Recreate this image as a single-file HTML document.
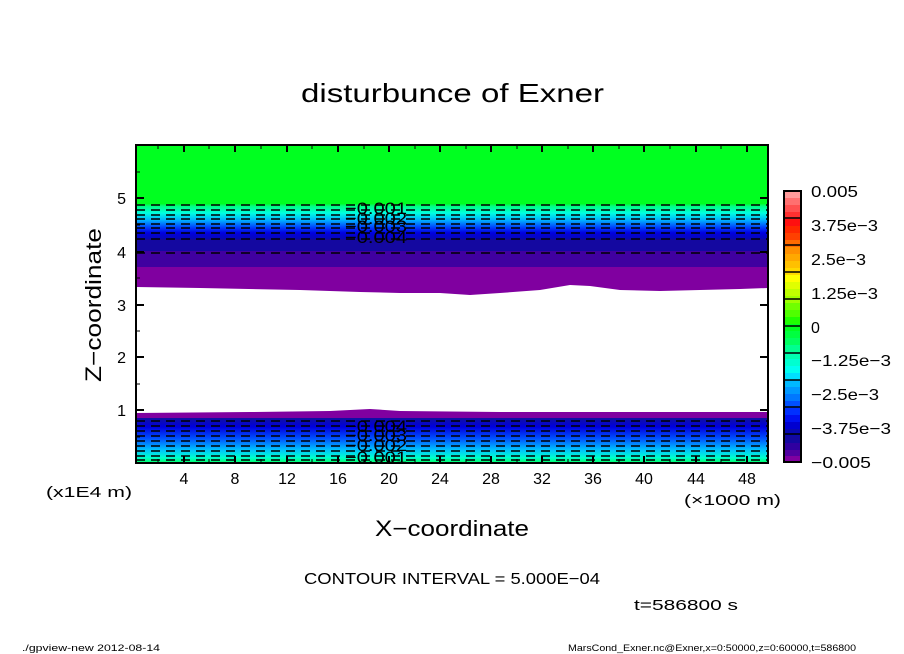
<!DOCTYPE html>
<html><head><meta charset="utf-8"><style>
body{margin:0;background:#fff;}
svg{display:block;font-family:"Liberation Sans",sans-serif;}
</style></head><body>
<svg width="904" height="654" viewBox="0 0 904 654" xmlns="http://www.w3.org/2000/svg">
<defs>
<linearGradient id="gt" x1="0" y1="0" x2="0" y2="1">
<stop offset="0" stop-color="#00ff30"/>
<stop offset="0.06" stop-color="#00ff80"/>
<stop offset="0.25" stop-color="#00ffe0"/>
<stop offset="0.45" stop-color="#00b0ff"/>
<stop offset="0.65" stop-color="#0040ff"/>
<stop offset="0.8" stop-color="#0000e0"/>
<stop offset="1" stop-color="#0808b0"/>
</linearGradient>
<linearGradient id="gb" x1="0" y1="0" x2="0" y2="1">
<stop offset="0" stop-color="#1010a0"/>
<stop offset="0.2" stop-color="#0000e0"/>
<stop offset="0.45" stop-color="#0050ff"/>
<stop offset="0.7" stop-color="#00c0ff"/>
<stop offset="0.88" stop-color="#00ffd0"/>
<stop offset="1" stop-color="#00ff60"/>
</linearGradient>
</defs>
<text x="301" y="102" font-size="26" textLength="303" lengthAdjust="spacingAndGlyphs">disturbunce of Exner</text>
<rect x="136" y="145" width="632" height="318" fill="#fff"/>
<rect x="136" y="145" width="632" height="60" fill="#00ff20"/>
<rect x="136" y="204" width="632" height="36" fill="url(#gt)"/>
<rect x="136" y="239" width="632" height="13" fill="#1408a0"/>
<rect x="136" y="251" width="632" height="17" fill="#4000a0"/>
<path d="M136 267 H768 V288 L740 289 L660 291 L620 290 L590 286 L570 285 L540 290 L500 293 L470 295 L440 293 L400 293 L360 292 L300 290 L200 288 L136 287 Z" fill="#8000a0"/>
<path d="M136 413 L250 412 L330 411 L370 409 L400 411 L500 412 L768 412 V463 H136 Z" fill="#8000a0"/>
<rect x="136" y="418" width="632" height="45" fill="url(#gb)"/>
<g stroke="#000" stroke-width="1.4" stroke-dasharray="9,6" fill="none">
<line x1="136" y1="205" x2="768" y2="205"/>
<line x1="136" y1="210" x2="768" y2="210"/>
<line x1="136" y1="215" x2="768" y2="215"/>
<line x1="136" y1="219" x2="768" y2="219"/>
<line x1="136" y1="224" x2="768" y2="224"/>
<line x1="136" y1="228" x2="768" y2="228"/>
<line x1="136" y1="233" x2="768" y2="233"/>
<line x1="136" y1="239" x2="768" y2="239"/>
<line x1="136" y1="253" x2="768" y2="253"/>
<line x1="136" y1="421" x2="768" y2="421"/>
<line x1="136" y1="426" x2="768" y2="426"/>
<line x1="136" y1="431" x2="768" y2="431"/>
<line x1="136" y1="436" x2="768" y2="436"/>
<line x1="136" y1="441" x2="768" y2="441"/>
<line x1="136" y1="446" x2="768" y2="446"/>
<line x1="136" y1="451" x2="768" y2="451"/>
<line x1="136" y1="456" x2="768" y2="456"/>
<line x1="136" y1="460" x2="768" y2="460"/>
</g>
<g font-size="17" fill="#000">
<text x="345" y="214" textLength="62" lengthAdjust="spacingAndGlyphs">−0.001</text><text x="345" y="224" textLength="62" lengthAdjust="spacingAndGlyphs">−0.002</text><text x="345" y="232" textLength="62" lengthAdjust="spacingAndGlyphs">−0.003</text><text x="345" y="243" textLength="62" lengthAdjust="spacingAndGlyphs">−0.004</text>
<text x="345" y="432" textLength="62" lengthAdjust="spacingAndGlyphs">−0.004</text><text x="345" y="441" textLength="62" lengthAdjust="spacingAndGlyphs">−0.003</text><text x="345" y="451" textLength="62" lengthAdjust="spacingAndGlyphs">−0.002</text><text x="345" y="463" textLength="62" lengthAdjust="spacingAndGlyphs">−0.001</text>
</g>
<rect x="136" y="145" width="632" height="318" fill="none" stroke="#000" stroke-width="2"/>
<g stroke="#000" stroke-width="2">
<path d="M184 463v-7M235 463v-7M287 463v-7M338 463v-7M389 463v-7M440 463v-7M491 463v-7M542 463v-7M593 463v-7M644 463v-7M696 463v-7M747 463v-7"/>
<path d="M184 145v7M235 145v7M287 145v7M338 145v7M389 145v7M440 145v7M491 145v7M542 145v7M593 145v7M644 145v7M696 145v7M747 145v7"/>
<path d="M136 198h8M136 252h8M136 305h8M136 357h8M136 410h8M768 198h-8M768 252h-8M768 305h-8M768 357h-8M768 410h-8"/>
</g>
<g stroke="#000" stroke-width="1">
<path d="M158 463v-4M209 463v-4M261 463v-4M312 463v-4M364 463v-4M415 463v-4M466 463v-4M517 463v-4M568 463v-4M619 463v-4M670 463v-4M721 463v-4"/>
<path d="M158 145v4M209 145v4M261 145v4M312 145v4M364 145v4M415 145v4M466 145v4M517 145v4M568 145v4M619 145v4M670 145v4M721 145v4"/>
<path d="M136 172h4M136 225h4M136 278h4M136 331h4M136 384h4M136 437h4"/>
</g>
<g font-size="16" text-anchor="middle">
<text x="184" y="484">4</text><text x="235" y="484">8</text><text x="287" y="484">12</text><text x="338" y="484">16</text><text x="389" y="484">20</text><text x="440" y="484">24</text><text x="491" y="484">28</text><text x="542" y="484">32</text><text x="593" y="484">36</text><text x="644" y="484">40</text><text x="696" y="484">44</text><text x="747" y="484">48</text>
</g>
<g font-size="16" text-anchor="end">
<text x="126" y="204">5</text><text x="126" y="258">4</text><text x="126" y="311">3</text><text x="126" y="363">2</text><text x="126" y="416">1</text>
</g>
<text x="46" y="497" font-size="15" textLength="86" lengthAdjust="spacingAndGlyphs">(x1E4 m)</text>
<text x="684" y="505" font-size="15" textLength="97" lengthAdjust="spacingAndGlyphs">(×1000 m)</text>
<text x="375" y="536" font-size="22" textLength="154" lengthAdjust="spacingAndGlyphs">X−coordinate</text>
<text transform="translate(101,382) rotate(-90)" font-size="22" textLength="154" lengthAdjust="spacingAndGlyphs">Z−coordinate</text>
<text x="304" y="584" font-size="16" textLength="296" lengthAdjust="spacingAndGlyphs">CONTOUR INTERVAL = 5.000E−04</text>
<text x="634" y="610" font-size="15" textLength="104" lengthAdjust="spacingAndGlyphs">t=586800 s</text>
<text x="22" y="651" font-size="9" textLength="138" lengthAdjust="spacingAndGlyphs">./gpview-new   2012-08-14</text>
<text x="568" y="651" font-size="9" textLength="288" lengthAdjust="spacingAndGlyphs">MarsCond_Exner.nc@Exner,x=0:50000,z=0:60000,t=586800</text>
<g>
<rect x="784" y="191" width="17" height="7" fill="#ff9a9a"/>
<rect x="784" y="198" width="17" height="7" fill="#ff7070"/>
<rect x="784" y="205" width="17" height="7" fill="#ff5050"/>
<rect x="784" y="212" width="17" height="7" fill="#ff3030"/>
<rect x="784" y="219" width="17" height="7" fill="#ff1010"/>
<rect x="784" y="226" width="17" height="7" fill="#ff2800"/>
<rect x="784" y="233" width="17" height="7" fill="#ff4000"/>
<rect x="784" y="240" width="17" height="7" fill="#ff6a00"/>
<rect x="784" y="247" width="17" height="7" fill="#ff9000"/>
<rect x="784" y="254" width="17" height="7" fill="#ffa800"/>
<rect x="784" y="261" width="17" height="7" fill="#ffc000"/>
<rect x="784" y="268" width="17" height="7" fill="#ffd800"/>
<rect x="784" y="275" width="17" height="7" fill="#ffff00"/>
<rect x="784" y="282" width="17" height="7" fill="#e0ff00"/>
<rect x="784" y="289" width="17" height="7" fill="#c0ff00"/>
<rect x="784" y="296" width="17" height="7" fill="#a0ff00"/>
<rect x="784" y="303" width="17" height="7" fill="#70ff00"/>
<rect x="784" y="310" width="17" height="7" fill="#50ff00"/>
<rect x="784" y="317" width="17" height="7" fill="#20ff00"/>
<rect x="784" y="324" width="17" height="7" fill="#00ff20"/>
<rect x="784" y="331" width="17" height="7" fill="#00ff40"/>
<rect x="784" y="338" width="17" height="7" fill="#00ff60"/>
<rect x="784" y="345" width="17" height="7" fill="#00ff90"/>
<rect x="784" y="352" width="17" height="7" fill="#00ffb0"/>
<rect x="784" y="359" width="17" height="7" fill="#00ffd0"/>
<rect x="784" y="366" width="17" height="7" fill="#00fff0"/>
<rect x="784" y="373" width="17" height="7" fill="#00e0ff"/>
<rect x="784" y="380" width="17" height="7" fill="#00b8ff"/>
<rect x="784" y="387" width="17" height="7" fill="#0098ff"/>
<rect x="784" y="394" width="17" height="7" fill="#0078ff"/>
<rect x="784" y="401" width="17" height="7" fill="#0050ff"/>
<rect x="784" y="408" width="17" height="7" fill="#0030ff"/>
<rect x="784" y="415" width="17" height="7" fill="#0010f0"/>
<rect x="784" y="422" width="17" height="7" fill="#0000d0"/>
<rect x="784" y="429" width="17" height="7" fill="#0808b0"/>
<rect x="784" y="436" width="17" height="7" fill="#1408a0"/>
<rect x="784" y="443" width="17" height="7" fill="#3000a0"/>
<rect x="784" y="450" width="17" height="6" fill="#5000a0"/>
<rect x="784" y="456" width="17" height="6" fill="#8000a0"/>
<g stroke="#000" stroke-width="1.5">
<path d="M784 218h17M784 245h17M784 272h17M784 299h17M784 326h17M784 353h17M784 380h17M784 407h17M784 434h17"/>
</g>
<rect x="784" y="191" width="17" height="271" fill="none" stroke="#000" stroke-width="2"/>
</g>
<g font-size="16">
<text x="811" y="197" textLength="47" lengthAdjust="spacingAndGlyphs">0.005</text>
<text x="811" y="231" textLength="67" lengthAdjust="spacingAndGlyphs">3.75e−3</text>
<text x="811" y="265" textLength="55" lengthAdjust="spacingAndGlyphs">2.5e−3</text>
<text x="811" y="299" textLength="67" lengthAdjust="spacingAndGlyphs">1.25e−3</text>
<text x="811" y="333">0</text>
<text x="811" y="366" textLength="80" lengthAdjust="spacingAndGlyphs">−1.25e−3</text>
<text x="811" y="400" textLength="68" lengthAdjust="spacingAndGlyphs">−2.5e−3</text>
<text x="811" y="434" textLength="80" lengthAdjust="spacingAndGlyphs">−3.75e−3</text>
<text x="811" y="468" textLength="60" lengthAdjust="spacingAndGlyphs">−0.005</text>
</g>
</svg>
</body></html>
